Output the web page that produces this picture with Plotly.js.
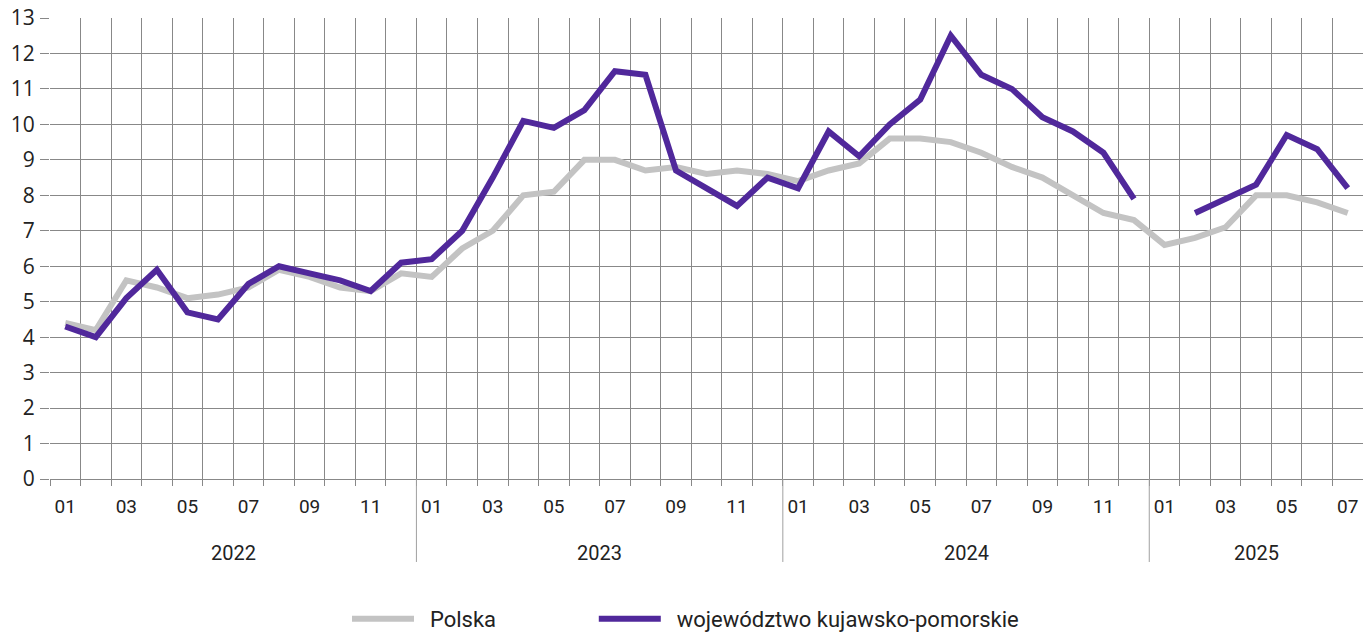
<!DOCTYPE html>
<html>
<head>
<meta charset="utf-8">
<script src="https://cdn.plot.ly/plotly-3.0.1.min.js"></script>
<style>html,body{margin:0;padding:0;background:#fff;}#chart{width:1363px;height:633px;}</style>
</head>
<body>
<div id="chart"></div>
<script>
// Months Jan 2022 .. Jul 2025
const years = ['2022', '2023', '2024', '2025'];
const monthsPerYear = [12, 12, 12, 7];
const monthLabels = ['01','02','03','04','05','06','07','08','09','10','11','12'];

const polska = [
  4.4, 4.2, 5.6, 5.4, 5.1, 5.2, 5.4, 5.9, 5.7, 5.4, 5.3, 5.8,
  5.7, 6.5, 7.0, 8.0, 8.1, 9.0, 9.0, 8.7, 8.8, 8.6, 8.7, 8.6,
  8.4, 8.7, 8.9, 9.6, 9.6, 9.5, 9.2, 8.8, 8.5, 8.0, 7.5, 7.3,
  6.6, 6.8, 7.1, 8.0, 8.0, 7.8, 7.5
];
const kujawsko = [
  4.3, 4.0, 5.1, 5.9, 4.7, 4.5, 5.5, 6.0, 5.8, 5.6, 5.3, 6.1,
  6.2, 7.0, 8.5, 10.1, 9.9, 10.4, 11.5, 11.4, 8.7, 8.2, 7.7, 8.5,
  8.2, 9.8, 9.1, 10.0, 10.7, 12.5, 11.4, 11.0, 10.2, 9.8, 9.2, 7.9,
  null, 7.5, 7.9, 8.3, 9.7, 9.3, 8.2
];
const seriesNames = ['Polska', 'województwo kujawsko-pomorskie'];

// build category index, tick labels
const xIdx = [], tickVals = [], tickText = [], yearCenters = [], yearBounds = [];
let k = 0;
years.forEach((y, yi) => {
  const start = k;
  for (let m = 0; m < monthsPerYear[yi]; m++) {
    xIdx.push(k);
    if (m % 2 === 0) { tickVals.push(k); tickText.push(monthLabels[m]); }
    k++;
  }
  yearCenters.push((start + k - 1) / 2);
  if (yi < years.length - 1) yearBounds.push(k - 0.5);
});
const n = xIdx.length;

const gridCol = '#888888';
const FONT = '"Open Sans", "Noto Sans", sans-serif';
const NARROW = '"Liberation Sans Narrow", Roboto, sans-serif';
const NB = '\u00a0';

const traces = [
  {x: xIdx, y: polska, name: NB + NB + seriesNames[0] + NB.repeat(17), type: 'scatter', mode: 'lines',
   line: {color: '#c3c3c3', width: 6}, hoverinfo: 'x+y'},
  {x: xIdx, y: kujawsko, name: NB + NB + seriesNames[1], type: 'scatter', mode: 'lines',
   connectgaps: false, line: {color: '#50289b', width: 6}, hoverinfo: 'x+y'}
];

const shapes = yearBounds.map(b => ({
  type: 'line', xref: 'x', yref: 'paper', x0: b, x1: b, y0: 0, y1: -0.18,
  line: {color: '#a0a0a0', width: 1}
}));

const annotations = years.map((y, i) => ({
  x: yearCenters[i], xref: 'x', y: -0.16, yref: 'paper', text: y, showarrow: false,
  xanchor: 'center', yanchor: 'middle', font: {family: NARROW, size: 20, color: '#222'}
}));

const layout = {
  width: 1363, height: 633,
  margin: {l: 50, r: 0, t: 18, b: 154, pad: 0},
  paper_bgcolor: '#fff', plot_bgcolor: '#fff',
  showlegend: true,
  legend: {orientation: 'h', x: 0.484, xanchor: 'center', yref: 'container', y: 0.022, yanchor: 'middle',
           font: {family: NARROW, size: 22, color: '#222'}, itemwidth: 62},
  xaxis: {
    automargin: false,
    range: [-0.5, n - 0.5], tickmode: 'array', tickvals: tickVals, ticktext: tickText,
    showgrid: false, zeroline: false, showline: false, ticks: '',
    ticklabelstandoff: 14,
    tickfont: {family: NARROW, size: 19, color: '#222'},
    minor: {tick0: -0.5, dtick: 1, showgrid: true, gridcolor: gridCol, gridwidth: 1.4,
            ticks: 'outside', ticklen: 6, tickcolor: gridCol, tickwidth: 1.4}
  },
  yaxis: {
    automargin: false,
    range: [0, 13], dtick: 1, tick0: 0, showgrid: true, gridcolor: gridCol, gridwidth: 1.4,
    zeroline: true, zerolinecolor: gridCol, zerolinewidth: 1.4, showline: false,
    ticks: 'outside', ticklen: 9, tickcolor: gridCol, tickwidth: 1.4,
    tickfont: {family: FONT, size: 21, color: '#222'}, ticklabelstandoff: 1
  },
  shapes: shapes,
  annotations: annotations
};

Plotly.newPlot('chart', traces, layout, {displayModeBar: false, responsive: false});
</script>
</body>
</html>
